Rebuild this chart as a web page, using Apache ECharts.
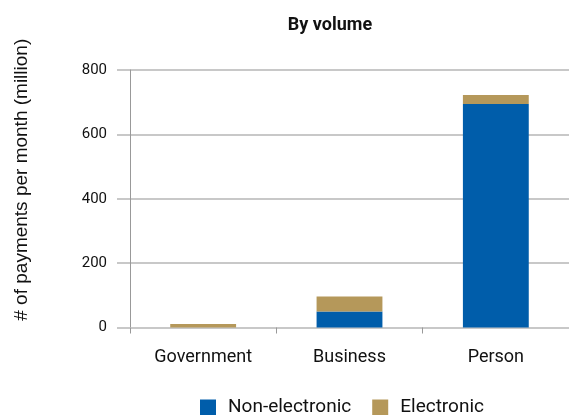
<!DOCTYPE html>
<html><head><meta charset="utf-8">
<script src="https://cdn.jsdelivr.net/npm/echarts@6/dist/echarts.min.js"></script>
<style>html,body{margin:0;padding:0;background:#fff}#c{width:569px;height:415px}</style>
</head><body><div id="c"></div>
<script>
const categories = ["Government", "Business", "Person"];
const nonElectronic = [0, 50, 694];
const electronic = [11, 46, 28];
const yTicks = [0, 200, 400, 600, 800];

const FONT = "'Roboto', sans-serif";
const chart = echarts.init(document.getElementById('c'), null, {renderer: 'canvas'});
chart.setOption({
  animation: false,
  title: {text: 'By volume', left: 325, top: 11, textAlign: 'center',
    textStyle: {fontFamily: FONT, fontWeight: 'bold', fontSize: 18, color: '#111'}},
  legend: {top: 393, left: 195, itemWidth: 16, itemHeight: 16, itemGap: 21,
    icon: 'rect', textStyle: {fontFamily: FONT, fontSize: 19, color: '#111', padding: [0,0,0,7]},
    data: ['Non-electronic', 'Electronic']},
  grid: {left: 130, top: 70, width: 442.5, height: 257.5},
  xAxis: {type: 'category', data: categories,
    axisLine: {lineStyle: {color: '#c8c8c8', width: 2}},
    axisTick: {show: true, length: 6, lineStyle: {color: '#999', width: 1}},
    axisLabel: {fontFamily: FONT, fontSize: 18, color: '#111', margin: 21}},
  yAxis: {type: 'value', min: yTicks[0], max: yTicks[yTicks.length-1], interval: 200,
    name: '# of payments per month (million)', nameLocation: 'middle', nameGap: 99,
    nameTextStyle: {fontFamily: "'Liberation Sans', Arial, sans-serif", fontSize: 19, color: '#111',
      padding: [0, 0, 0, 38]},
    axisLine: {show: true, lineStyle: {color: '#999', width: 1}},
    axisTick: {show: true, length: 13, lineStyle: {color: '#c8c8c8', width: 2}},
    splitLine: {lineStyle: {color: '#c8c8c8', width: 2}},
    axisLabel: {fontFamily: FONT, fontSize: 15, color: '#111', margin: 23}},
  series: [
    {name: 'Non-electronic', type: 'bar', stack: 'a', data: nonElectronic, barWidth: '45%',
      itemStyle: {color: '#005DAA'}},
    {name: 'Electronic', type: 'bar', stack: 'a', data: electronic, barWidth: '45%',
      itemStyle: {color: '#B5985A'}}
  ]
});
</script></body></html>
